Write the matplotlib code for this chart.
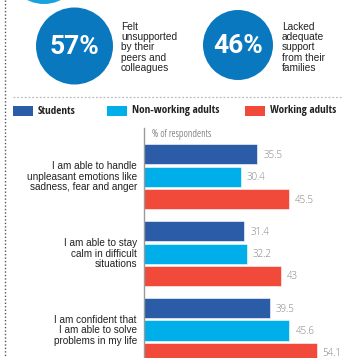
import matplotlib
matplotlib.use("Agg")
import matplotlib.pyplot as plt
from matplotlib.patches import Circle, Rectangle

# ── Data ──
categories = [
    "I am able to handle\nunpleasant emotions like\nsadness, fear and anger",
    "I am able to stay\ncalm in difficult\nsituations",
    "I am confident that\nI am able to solve\nproblems in my life",
]
series_names = ["Students", "Non-working adults", "Working adults"]
students = [35.5, 31.4, 39.5]
non_working = [30.4, 32.2, 45.6]
working = [45.5, 43, 54.1]
value_labels = [["35.5", "30.4", "45.5"], ["31.4", "32.2", "43"], ["39.5", "45.6", "54.1"]]

stat_values = ["57%", "46%"]
stat_texts = ["Felt\nunsupported\nby their\npeers and\ncolleagues",
              "Lacked\nadequate\nsupport\nfrom their\nfamilies"]

C = {"students": "#2B5CA8", "nonwork": "#00AEEA", "work": "#F14A3A",
     "circle": "#0A78BF", "circle_top": "#1AA2E0", "text": "#222222",
     "val": "#7F7F7F", "axis": "#9A9A9A"}
series_colors = [C["students"], C["nonwork"], C["work"]]

BODY = ["Liberation Sans", "DejaVu Sans"]
OPEN = ["Open Sans", "DejaVu Sans"]
COND = ["Open Sans Condensed", "Open Sans", "DejaVu Sans"]

W, H = 342, 358
fig = plt.figure(figsize=(W / 100, H / 100), dpi=100)
fig.patch.set_facecolor("white")

# background axes in pixel coords (y down)
bg = fig.add_axes([0, 0, 1, 1])
bg.set_xlim(0, W); bg.set_ylim(H, 0); bg.axis("off")

# dotted frame lines
bg.plot([5, 5], [0, H], color="#555555", lw=1.0, linestyle=(0, (1, 1.5)))
bg.plot([13, W], [97, 97], color="#BBBBBB", lw=0.9, linestyle=(0, (1.5, 1.5)))

# circles
bg.add_patch(Circle((44, -34), 38, color=C["circle_top"], lw=0))
circ = [(74.5, 46, 38.5), (238, 45, 35)]
text_x = [121, 282]
for (cx, cy, r), val, txt, tx in zip(circ, stat_values, stat_texts, text_x):
    bg.add_patch(Circle((cx, cy), r, color=C["circle"], lw=0))
    bg.text(cx, cy + 1, val, ha="center", va="center", color="white",
            fontsize=19, fontweight="bold", family=["Roboto", "DejaVu Sans"])
    bg.text(tx, 47.5, txt, ha="left", va="center", color=C["text"],
            fontsize=7.3, family=BODY, linespacing=1.04)

# legend
leg_x = [13, 107, 245]
for x, name, col in zip(leg_x, series_names, series_colors):
    bg.add_patch(Rectangle((x, 106), 20, 10, color=col, lw=0))
    bg.text(x + 25, 111, name, ha="left", va="center", color=C["text"],
            fontsize=8, fontweight="bold", family=COND)

# ── Bar chart ──
ax = fig.add_axes([144 / W, 0, (W - 144) / W, (H - 128) / H])
ax.patch.set_alpha(0)
scale = 3.19  # px per unit
ax.set_xlim(0, (W - 144) / scale)
pitch = 22.3
top_units = (154.3 - 128) / pitch
ax.set_ylim((H - 128) / pitch - top_units, -top_units)

group_gap = 3.45
bar_h = 0.9
for j, (vals, col) in enumerate(zip([students, non_working, working], series_colors)):
    ys = [g * group_gap + j for g in range(len(categories))]
    ax.barh(ys, vals, height=bar_h, color=col, edgecolor="white", linewidth=0.4)
    for g, (y, v) in enumerate(zip(ys, vals)):
        ax.text(v + 1.9, y + 0.05, value_labels[g][j], ha="left", va="center",
                color=C["val"], fontsize=7, fontweight="light", family=OPEN)

for g, cat in enumerate(categories):
    ax.text(-2.2, g * group_gap + 1, cat, ha="right", va="center", color=C["text"],
            fontsize=7.2, family=BODY, linespacing=1.03, clip_on=False)

ax.text(2.5, -top_units + 7 / pitch, "% of respondents", ha="left", va="center",
        color="#555555", fontsize=7.5, fontweight="light", fontstretch="condensed",
        family=OPEN)

for s in ["top", "right", "bottom"]:
    ax.spines[s].set_visible(False)
ax.spines["left"].set_color(C["axis"])
ax.spines["left"].set_linewidth(1.0)
ax.set_xticks([]); ax.set_yticks([])

fig.savefig("out.png", dpi=100, facecolor="white")
